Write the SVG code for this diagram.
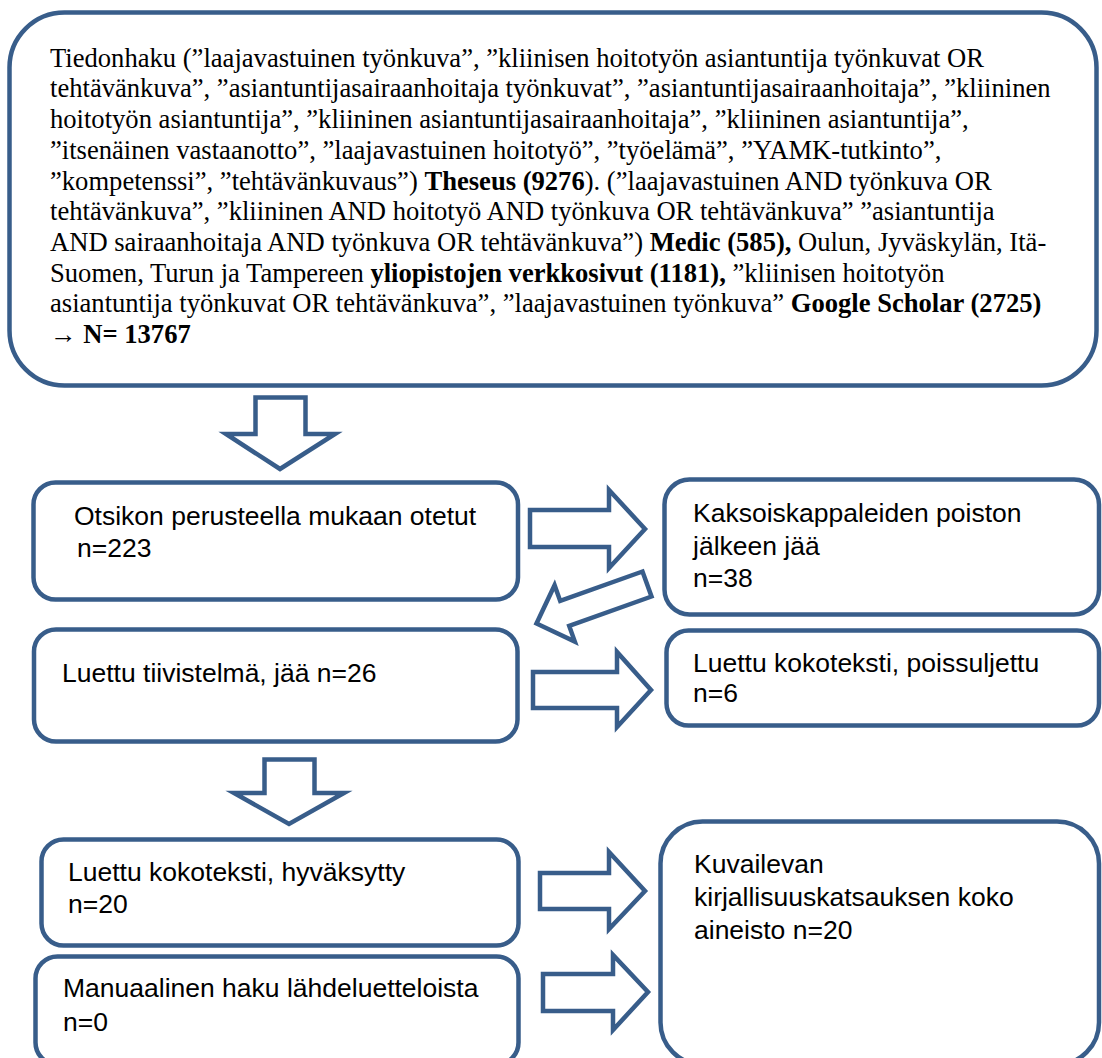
<svg xmlns="http://www.w3.org/2000/svg" width="1102" height="1058" viewBox="0 0 1102 1058">
<style>
.box{fill:#fff;stroke:#385D8A;stroke-width:4.5}
.arr{fill:#fff;stroke:#385D8A;stroke-width:4.5;stroke-linejoin:miter}
.serif{font-family:"Liberation Serif","Times New Roman",serif;font-size:26.6px;fill:#000}
.sans{font-family:"Liberation Sans",Arial,sans-serif;font-size:26.5px;fill:#000}
.b{font-weight:bold}
</style>
<rect width="1102" height="1058" fill="#fff"/>
<g id="search">
<rect class="box" x="9.5" y="12.5" width="1087" height="373" rx="55"/>
<text class="serif">
<tspan x="50" y="66.7">Tiedonhaku (”laajavastuinen työnkuva”, ”kliinisen hoitotyön asiantuntija työnkuvat OR</tspan>
<tspan x="50" y="97.4">tehtävänkuva”, ”asiantuntijasairaanhoitaja työnkuvat”, ”asiantuntijasairaanhoitaja”, ”kliininen</tspan>
<tspan x="50" y="128.1">hoitotyön asiantuntija”, ”kliininen asiantuntijasairaanhoitaja”, ”kliininen asiantuntija”,</tspan>
<tspan x="50" y="158.8">”itsenäinen vastaanotto”, ”laajavastuinen hoitotyö”, ”työelämä”, ”YAMK-tutkinto”,</tspan>
<tspan x="50" y="189.5">”kompetenssi”, ”tehtävänkuvaus”) <tspan class="b">Theseus (9276</tspan>). (”laajavastuinen AND työnkuva OR</tspan>
<tspan x="50" y="220.2">tehtävänkuva”, ”kliininen AND hoitotyö AND työnkuva OR tehtävänkuva” ”asiantuntija</tspan>
<tspan x="50" y="250.9">AND sairaanhoitaja AND työnkuva OR tehtävänkuva”) <tspan class="b">Medic (585),</tspan> Oulun, Jyväskylän, Itä-</tspan>
<tspan x="50" y="281.6">Suomen, Turun ja Tampereen <tspan class="b">yliopistojen verkkosivut (1181),</tspan> ”kliinisen hoitotyön</tspan>
<tspan x="50" y="312.3">asiantuntija työnkuvat OR tehtävänkuva”, ”laajavastuinen työnkuva” <tspan class="b">Google Scholar (2725)</tspan></tspan>
<tspan x="50" y="343">→ <tspan class="b">N= 13767</tspan></tspan>
</text>
</g>
<g id="connectors">
<polygon class="arr" points="255.5,397.5 305.5,397.5 305.5,434 335,434 280,469 226,434 255.5,434"/>
<polygon class="arr" points="530,510 609,510 609,490 645,529 609,568 609,547 530,547"/>
<polygon class="arr" points="642.5,571.5 560.2,600.9 554.6,585.2 536.5,623.5 574.8,641.6 569.2,625.9 651.5,596.5"/>
<polygon class="arr" points="533,672 617,672 617,652 651,690 617,727 617,708 533,708"/>
<polygon class="arr" points="264.5,759.5 314.5,759.5 314.5,793 344,793 289,824 234,793 264.5,793"/>
<polygon class="arr" points="540,873 609,873 609,852 645,891 609,929 609,909 540,909"/>
<polygon class="arr" points="543,974 613,974 613,955 648,992 613,1030 613,1011 543,1011"/>
</g>
<g id="title-screen">
<rect class="box" x="33.5" y="482.5" width="484.5" height="117" rx="22"/>
<text class="sans"><tspan x="74" y="525">Otsikon perusteella mukaan otetut</tspan><tspan x="77" y="557">n=223</tspan></text>
</g>
<g id="duplicates">
<rect class="box" x="664.5" y="479.5" width="434.5" height="135" rx="25"/>
<text class="sans"><tspan x="693" y="522">Kaksoiskappaleiden poiston</tspan><tspan x="693" y="554.5">jälkeen jää</tspan><tspan x="693" y="587">n=38</tspan></text>
</g>
<g id="abstract">
<rect class="box" x="34" y="629.5" width="483.5" height="112" rx="22"/>
<text class="sans"><tspan x="62" y="682">Luettu tiivistelmä, jää n=26</tspan></text>
</g>
<g id="excluded">
<rect class="box" x="666.5" y="630.5" width="432.5" height="95" rx="22"/>
<text class="sans"><tspan x="693" y="672">Luettu kokoteksti, poissuljettu</tspan><tspan x="693" y="702">n=6</tspan></text>
</g>
<g id="accepted">
<rect class="box" x="41.5" y="839.5" width="477" height="106" rx="22"/>
<text class="sans"><tspan x="68" y="881">Luettu kokoteksti, hyväksytty</tspan><tspan x="68" y="913">n=20</tspan></text>
</g>
<g id="manual">
<rect class="box" x="35.5" y="956.5" width="483" height="108" rx="22"/>
<text class="sans"><tspan x="63" y="997">Manuaalinen haku lähdeluetteloista</tspan><tspan x="63" y="1031">n=0</tspan></text>
</g>
<g id="total">
<rect class="box" x="660.5" y="821.5" width="438.5" height="243" rx="42"/>
<text class="sans"><tspan x="694" y="873">Kuvailevan</tspan><tspan x="694" y="906">kirjallisuuskatsauksen koko</tspan><tspan x="694" y="939">aineisto n=20</tspan></text>
</g>
</svg>
